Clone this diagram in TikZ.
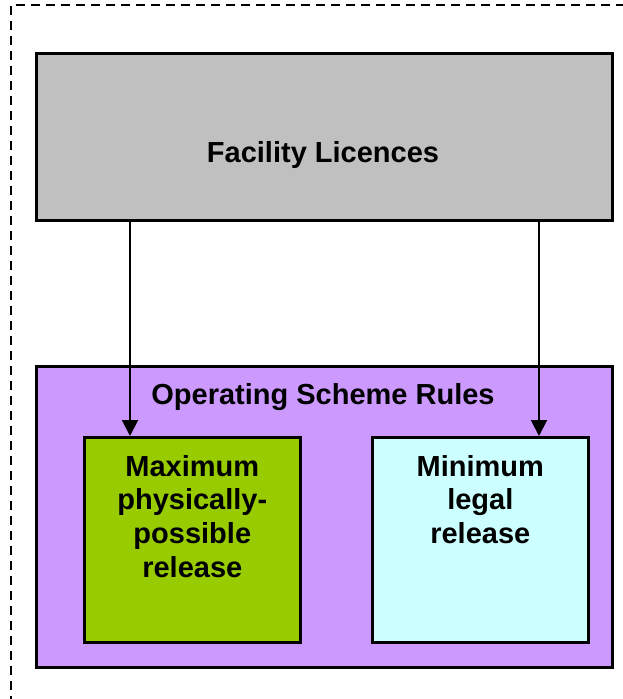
\documentclass[tikz,border=0pt]{standalone}
\usepackage{fontspec}
\setmainfont{Liberation Sans}
\usetikzlibrary{arrows.meta}
\definecolor{licgrey}{HTML}{C0C0C0}
\definecolor{rulespurple}{HTML}{CC99FF}
\definecolor{maxgreen}{HTML}{99CC00}
\definecolor{mincyan}{HTML}{CCFFFF}
\tikzset{
  panel/.style={draw=black, line width=2.6pt},
  label/.style={font=\fontsize{29}{33.7}\selectfont\bfseries, align=center, inner sep=0pt},
  feed/.style={draw=black, line width=2pt, -{Triangle[width=16pt,length=16pt]}}
}
\begin{document}
\begin{tikzpicture}[x=1pt, y=-1pt]
  \useasboundingbox (0,0) rectangle (623,699);
  % outer dashed frame, running off the page on the right and at the bottom
  \begin{scope}
    \clip (0,0) rectangle (623,699);
    \draw[line width=2.4pt, dash pattern=on 9pt off 6pt] (11,720) -- (11,5) -- (640,5);
  \end{scope}
  % licences box
  \node[panel, fill=licgrey, minimum width=576pt, minimum height=167pt, anchor=north west] (lic) at (35,52) {};
  \node[label] (lictext) at (323,155) {Facility Licences};
  % operating scheme rules box
  \node[panel, fill=rulespurple, minimum width=576pt, minimum height=301pt, anchor=north west] (rules) at (35,365) {};
  \node[label] (rulestext) at (323,397) {Operating Scheme Rules};
  % release boxes
  \node[panel, fill=maxgreen, minimum width=216pt, minimum height=205pt, anchor=north west] (maxrel) at (83,436) {};
  \node[panel, fill=mincyan, minimum width=216pt, minimum height=205pt, anchor=north west] (minrel) at (371,436) {};
  \node[label, anchor=north] (maxtext) at ([yshift=-19pt]maxrel.north) {Maximum\\physically-\\possible\\release};
  \node[label, anchor=north] (mintext) at ([yshift=-19pt]minrel.north) {Minimum\\legal\\release};
  % connectors
  \draw[feed] (lic.south -| 130,0) -- (maxrel.north -| 130,0);
  \draw[feed] (lic.south -| 539,0) -- (minrel.north -| 539,0);
\end{tikzpicture}
\end{document}
